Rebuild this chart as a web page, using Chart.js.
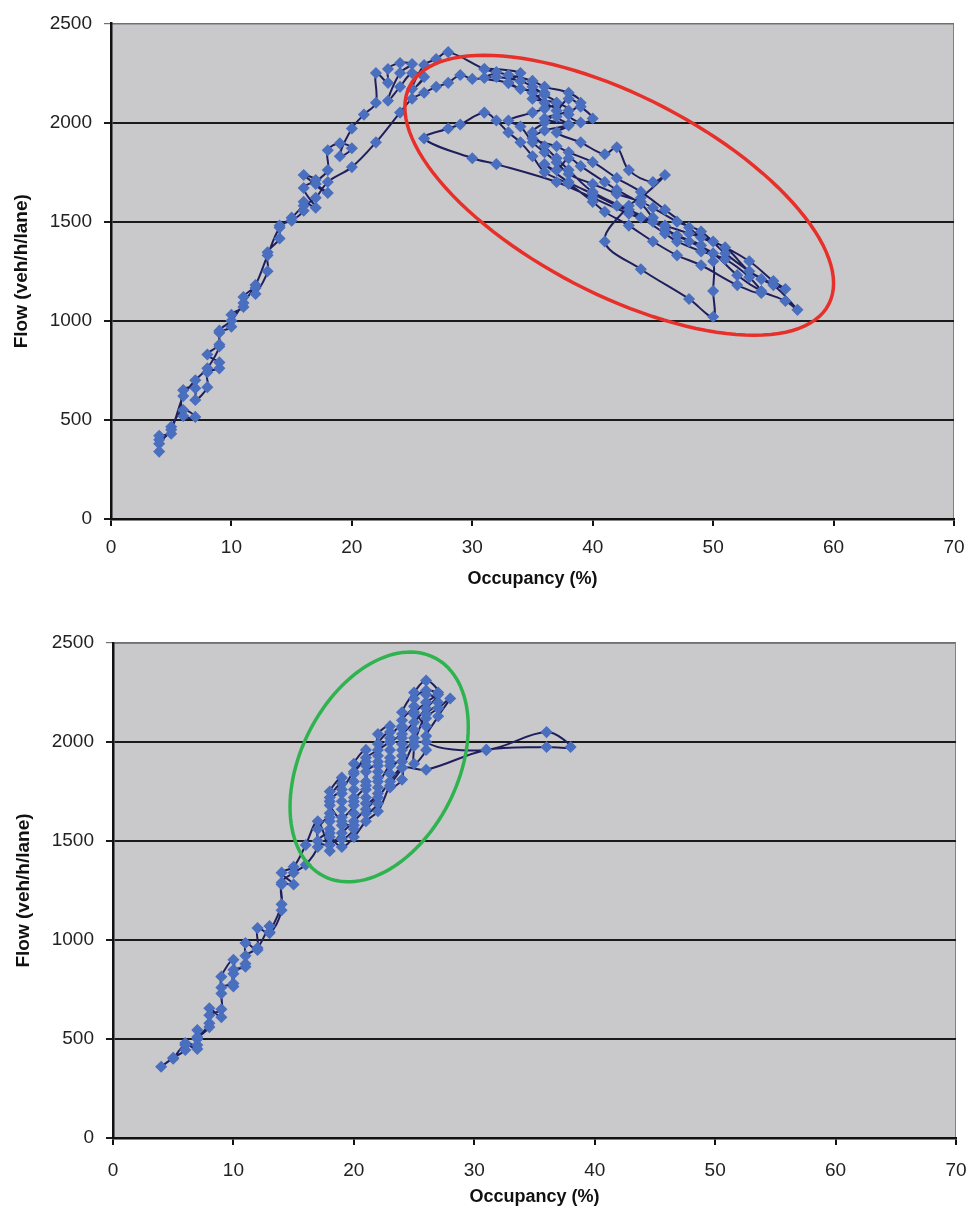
<!DOCTYPE html>
<html>
<head>
<meta charset="utf-8">
<script src="https://cdn.jsdelivr.net/npm/chart.js"></script>
<style>
  body { margin: 0; background: #fff; width: 968px; height: 1214px; position: relative; overflow: hidden; }
  .box { position: absolute; left: 0; width: 968px; }
</style>
</head>
<body>
<div class="box" style="top:0;height:600px"><canvas id="topChart"></canvas></div>
<div class="box" style="top:610px;height:604px"><canvas id="bottomChart"></canvas></div>
<script>
// axis ticks
const occTicks = [0, 10, 20, 30, 40, 50, 60, 70];
const flowTicks = [0, 500, 1000, 1500, 2000, 2500];

// top chart: occupancy (%) and flow (veh/h/lane), in time order
const topOcc = [
  4, 4, 5, 5, 6, 7, 6, 6, 7, 7, 8, 8, 9, 9, 8, 9, 9, 10, 10, 11, 11, 12, 12, 13, 13, 14, 14, 15, 16, 16,
  17, 16, 17, 16, 18, 17, 18, 18, 19, 20, 19, 20, 21, 22, 22, 23, 23, 24, 25, 24, 23, 24, 25, 26, 25, 26, 27, 28,
  31, 32, 31, 33, 34, 36, 35, 37, 38, 36, 38, 37, 39, 41, 42, 43, 45, 46, 44, 43, 41, 44, 48, 50, 50, 50,
  49, 47, 45, 43, 40, 38, 37, 36, 35, 36, 37, 36, 35, 33, 34, 31, 33, 35, 36, 38, 39, 38, 39, 40, 39, 38,
  37, 38, 36, 35, 37, 38, 40, 42, 44, 46, 48, 49, 51, 53, 55, 57, 56, 54, 52, 50, 48, 46, 45, 44, 42, 41,
  39, 38, 37, 36, 38, 40, 42, 44, 46, 47, 49, 51, 53, 54, 52, 49, 47, 45, 43, 41, 40, 38, 36, 35, 34, 33,
  32, 31, 29, 28, 26, 30, 32, 37, 40, 43, 46, 48, 50, 53, 55, 56, 54, 51, 49, 47, 45, 44, 42, 40, 38, 37,
  36, 35, 34, 33, 35, 36, 37, 36, 35, 34, 32, 30, 29, 28, 27, 26, 25, 24,
  22, 20, 18, 17, 16, 15, 14, 13, 12, 11, 10, 9, 9, 8, 7, 6, 5, 4, 4
];
const topFlow = [
  400, 420, 430, 465, 550, 515, 520, 650, 660, 600, 665, 740, 760, 790, 830, 880, 940, 970, 1030, 1070, 1120, 1165, 1135, 1250, 1345, 1415, 1480, 1505, 1555, 1600,
  1570, 1670, 1710, 1735, 1645, 1690, 1760, 1860, 1895, 1870, 1830, 1970, 2040, 2100, 2250, 2200, 2270, 2300, 2295, 2250, 2110, 2180, 2250, 2230, 2170, 2290, 2320, 2355,
  2270, 2255, 2225, 2200, 2170, 2150, 2120, 2100, 2060, 2020, 1985, 1950, 1900, 1840, 1875, 1760, 1700, 1735, 1620, 1580, 1400, 1260, 1110, 1020, 1150, 1300,
  1380, 1430, 1500, 1560, 1650, 1760, 1820, 1880, 1950, 2000, 2060, 2100, 2150, 2200, 2250, 2270, 2240, 2210, 2180, 2150, 2100, 2040, 2000, 2020, 2080, 2120,
  2030, 1990, 1960, 1920, 1880, 1850, 1800, 1720, 1650, 1560, 1470, 1420, 1370, 1250, 1180, 1055, 1100, 1150, 1230, 1340, 1400, 1460, 1520, 1590, 1660, 1700,
  1780, 1820, 1760, 1790, 1700, 1640, 1580, 1520, 1440, 1400, 1350, 1310, 1220, 1140, 1180, 1280, 1330, 1400, 1480, 1550, 1600, 1690, 1750, 1830, 1900, 1950,
  2010, 2050, 1990, 1970, 1920, 1820, 1790, 1700, 1620, 1540, 1480, 1440, 1400, 1300, 1200, 1160, 1210, 1340, 1450, 1500, 1570, 1600, 1640, 1690, 1740, 1800,
  1850, 1900, 1980, 2010, 2050, 2070, 2100, 2140, 2180, 2210, 2230, 2220, 2240, 2200, 2180, 2150, 2120, 2050,
  1900, 1775, 1700, 1620, 1580, 1520, 1470, 1330, 1180, 1090, 1000, 950, 870, 760, 700, 620, 450, 380, 340
];

// bottom chart: occupancy (%) and flow (veh/h/lane), in time order
const bottomOcc = [
  4, 5, 6, 6, 7, 7, 7, 8, 8, 9, 9, 9, 10, 10, 10, 11, 11, 12, 12, 13, 14, 14, 15, 14, 15, 16, 17,
  18, 18, 18, 18, 18, 19, 19, 19, 19, 19, 20, 20, 20, 20, 20, 21, 21, 21, 21, 21, 22, 22, 22, 22, 22,
  23, 23, 23, 23, 23, 24, 24, 24, 24, 24, 25, 26, 27, 26, 25, 25, 25, 25, 26, 26, 26, 27, 28, 27, 26,
  31, 36, 38, 36, 31, 26, 24, 23, 22, 21, 20, 19, 18, 17, 18, 18, 18, 19, 19, 19, 20, 20, 20, 21, 21, 21,
  22, 22, 22, 22, 23, 23, 23, 24, 24, 24, 25, 25, 26, 27, 26, 25, 24, 23, 22, 21, 20, 19, 18,
  19, 20, 20, 21, 21, 22, 22, 23, 23, 24, 24, 25, 25, 26, 26, 27, 26, 25, 24, 23, 22, 21, 20, 19, 18, 18, 17, 17,
  16, 15, 14, 14, 13, 13, 12, 11, 11, 10, 10, 9, 9, 8, 8, 7, 7, 6, 5
];
const bottomFlow = [
  360, 405, 445, 480, 470, 545, 510, 580, 655, 610, 730, 815, 900, 765, 850, 865, 985, 950, 1060, 1035, 1150, 1280, 1280, 1340, 1370, 1480, 1600,
  1450, 1520, 1600, 1680, 1750, 1820, 1740, 1660, 1580, 1510, 1560, 1640, 1720, 1800, 1890, 1960, 1880, 1800, 1720, 1640, 1690, 1770, 1850, 1930, 2040,
  2080, 2000, 1920, 1840, 1770, 1810, 1900, 1990, 2070, 2150, 2250, 2310, 2250, 2200, 2140, 2060, 1980, 1890, 1960, 2030, 2120, 2170, 2220, 2130, 2000,
  1960, 2050, 1975, 1975, 1960, 1860, 1870, 1800, 1720, 1660, 1600, 1540, 1480, 1500, 1560, 1640, 1720, 1790, 1700, 1620, 1680, 1760, 1840, 1900, 1760, 1690,
  1740, 1820, 1900, 1990, 2050, 1960, 1880, 1930, 2020, 2110, 2180, 2220, 2260, 2240, 2170, 2100, 2040, 2000, 1960, 1920, 1850, 1760, 1700,
  1600, 1580, 1700, 1780, 1850, 1880, 1800, 1900, 2020, 2080, 1960, 2020, 2150, 2080, 2240, 2200, 2140, 2000, 1870, 1780, 1650, 1600, 1520, 1470, 1540, 1620, 1560, 1470,
  1380, 1340, 1290, 1180, 1040, 1070, 960, 920, 880, 830, 780, 760, 650, 620, 560, 500, 450, 470, 400
];

// hand-drawn ellipses: centre and two conjugate half-axes, in data units
const redEllipse = { cx: 42.2, cy: 1633, ax: 17.8, ay: -444, bx: 0, by: 549, color: "#e8302a" };
const greenEllipse = { cx: 22.1, cy: 1874, ax: 7.4, ay: 202, bx: 0, by: 544, color: "#2fb34f" };

const plotBg = {
  id: "plotBg",
  beforeDraw(chart) {
    const { ctx, chartArea: a } = chart;
    ctx.save();
    ctx.fillStyle = "#c9c9cc";
    ctx.fillRect(a.left, a.top, a.right - a.left, a.bottom - a.top);
    ctx.strokeStyle = "#808080";
    ctx.lineWidth = 1;
    ctx.beginPath();
    ctx.moveTo(a.left, a.top + 0.5);
    ctx.lineTo(a.right - 0.5, a.top + 0.5);
    ctx.lineTo(a.right - 0.5, a.bottom);
    ctx.stroke();
    ctx.restore();
  },
};

const ellipsePlugin = {
  id: "ellipse",
  afterDatasetsDraw(chart, args, opts) {
    const e = opts.shape;
    if (!e) return;
    const { ctx, scales } = chart;
    ctx.save();
    ctx.strokeStyle = e.color;
    ctx.lineWidth = 3.5;
    ctx.beginPath();
    for (let i = 0; i <= 120; i++) {
      const t = (i / 120) * Math.PI * 2;
      const px = scales.x.getPixelForValue(e.cx + e.ax * Math.cos(t) + e.bx * Math.sin(t));
      const py = scales.y.getPixelForValue(e.cy + e.ay * Math.cos(t) + e.by * Math.sin(t));
      if (i === 0) ctx.moveTo(px, py);
      else ctx.lineTo(px, py);
    }
    ctx.closePath();
    ctx.stroke();
    ctx.restore();
  },
};

const font = "'Liberation Sans', Arial, sans-serif";

function makeChart(id, occ, flow, ellipse, g) {
  const points = occ.map((x, i) => ({ x: x, y: flow[i] }));
  return new Chart(document.getElementById(id), {
    type: "scatter",
    data: {
      datasets: [
        {
          data: points,
          showLine: true,
          borderColor: "#1f1f5e",
          borderWidth: 2,
          tension: 0.35,
          pointStyle: "rectRot",
          pointRadius: 5,
          pointBorderWidth: 1.5,
          pointBackgroundColor: "#4a6fbf",
          pointBorderColor: "#4a6fbf",
        },
      ],
    },
    options: {
      responsive: true,
      maintainAspectRatio: false,
      animation: false,
      layout: { padding: { top: g.top, right: g.right, left: 0, bottom: 0 } },
      plugins: {
        legend: { display: false },
        tooltip: { enabled: false },
        ellipse: { shape: ellipse },
      },
      scales: {
        x: {
          type: "linear",
          min: 0,
          max: 70,
          afterBuildTicks: (s) => { s.ticks = occTicks.map((v) => ({ value: v })); },
          afterFit: (s) => { s.height = g.xHeight; s.paddingLeft = 0; s.paddingRight = 0; },
          ticks: { color: "#222", font: { family: font, size: 19 }, padding: g.xTickPad, callback: (v) => String(v) },
          grid: { drawOnChartArea: false, color: "#111", lineWidth: 2, tickLength: 7 },
          border: { color: "#111", width: 2.5 },
          title: {
            display: true,
            text: "Occupancy (%)",
            color: "#111",
            font: { family: font, size: 18, weight: "bold" },
            padding: { top: 0, bottom: g.xTitlePad },
          },
        },
        y: {
          min: 0,
          max: 2500,
          afterBuildTicks: (s) => { s.ticks = flowTicks.map((v) => ({ value: v })); },
          afterFit: (s) => { s.width = g.yWidth; },
          ticks: { color: "#222", font: { family: font, size: 19 }, padding: 12, callback: (v) => String(v) },
          grid: {
            color: (c) => (c.tick && c.tick.value === 2500 ? "#707070" : "#1a1a1a"),
            lineWidth: (c) => (c.tick && c.tick.value === 2500 ? 1.2 : 2),
            tickLength: 7,
          },
          border: { color: "#111", width: 2.5 },
          title: {
            display: true,
            text: "Flow (veh/h/lane)",
            color: "#111",
            font: { family: font, size: 19, weight: "bold" },
            padding: { top: g.yTitlePad, bottom: 0 },
          },
        },
      },
    },
    plugins: [plotBg, ellipsePlugin],
  });
}

makeChart("topChart", topOcc, topFlow, redEllipse, {
  top: 23, right: 14, yWidth: 111, xHeight: 81, xTickPad: 10, xTitlePad: 10, yTitlePad: 10,
});
makeChart("bottomChart", bottomOcc, bottomFlow, greenEllipse, {
  top: 33, right: 12, yWidth: 113, xHeight: 76, xTickPad: 14, xTitlePad: 6, yTitlePad: 12,
});
</script>
</body>
</html>
